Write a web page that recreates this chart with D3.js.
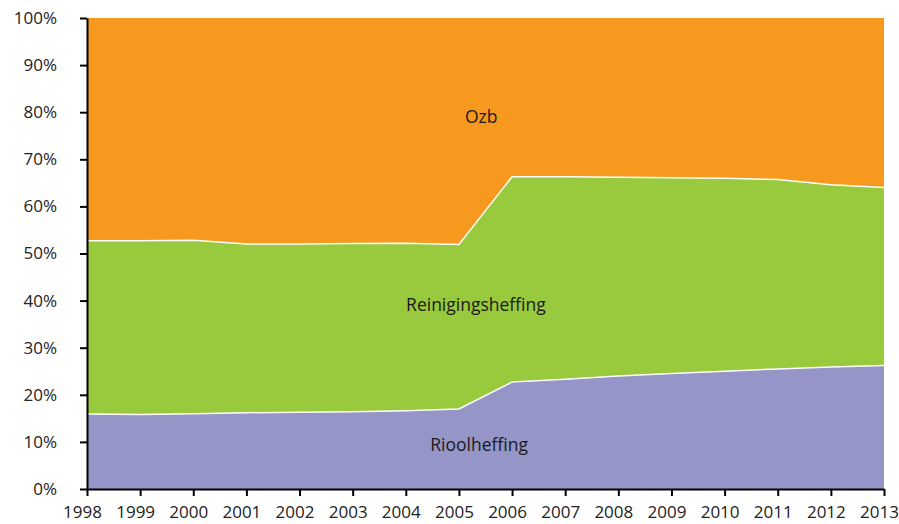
<!DOCTYPE html>
<html>
<head>
<meta charset="utf-8">
<script src="https://cdn.jsdelivr.net/npm/d3@7"></script>
<style>
    body { margin: 0; background: #fff; }
    .axis text { font-family: "Open Sans", sans-serif; font-size: 17px; fill: #222; }
    .axis path, .axis line { stroke: #000; stroke-width: 2px; }
    .area-label { font-family: "Open Sans", sans-serif; font-size: 17.5px; fill: #1a1a1a; text-anchor: middle; }
</style>
</head>
<body>
<div id="container"></div>
<script>
var years = [1998, 1999, 2000, 2001, 2002, 2003, 2004, 2005, 2006, 2007, 2008, 2009, 2010, 2011, 2012, 2013];

var rioolheffing = [15.9, 15.8, 16.0, 16.2, 16.3, 16.4, 16.6, 17.0, 22.7, 23.3, 24.0, 24.5, 25.0, 25.5, 25.9, 26.2];
var reinigingsheffing = [36.8, 36.9, 36.8, 35.8, 35.7, 35.7, 35.6, 34.9, 43.6, 43.0, 42.2, 41.6, 41.0, 40.2, 38.7, 37.8];
var ozb = [47.3, 47.3, 47.2, 48.0, 48.0, 47.9, 47.8, 48.1, 33.7, 33.7, 33.8, 33.9, 34.0, 34.3, 35.4, 36.0];

var seriesNames = ["Rioolheffing", "Reinigingsheffing", "Ozb"];
var yTicks = [0, 0.1, 0.2, 0.3, 0.4, 0.5, 0.6, 0.7, 0.8, 0.9, 1];

var colors = {
    "Rioolheffing": "#9595c7",
    "Reinigingsheffing": "#99c93c",
    "Ozb": "#f7991f"
};

var margin = {top: 18, right: 15, bottom: 35, left: 87},
    width = 899 - margin.left - margin.right,
    height = 524 - margin.top - margin.bottom;

var rows = years.map(function (y, i) {
    return {
        year: y,
        "Rioolheffing": rioolheffing[i],
        "Reinigingsheffing": reinigingsheffing[i],
        "Ozb": ozb[i]
    };
});

var stack = d3.stack()
    .keys(seriesNames)
    .offset(d3.stackOffsetExpand);

var layers = stack(rows);

var x = d3.scaleLinear().domain([1998, 2013]).range([0, width]);
var y = d3.scaleLinear().domain([0, 1]).range([height, 0]);

var svg = d3.select("#container").append("svg")
    .attr("width", 899)
    .attr("height", 524)
    .append("g")
    .attr("transform", "translate(" + margin.left + "," + margin.top + ")");

var area = d3.area()
    .x(function (d) { return x(d.data.year); })
    .y0(function (d) { return y(d[0]); })
    .y1(function (d) { return y(d[1]); });

svg.selectAll("path.layer")
    .data(layers)
    .enter().append("path")
    .attr("class", "layer")
    .attr("fill", function (d) { return colors[d.key]; })
    .attr("d", area);

// white seams between the layers
var topLine = d3.line()
    .x(function (d) { return x(d.data.year); })
    .y(function (d) { return y(d[1]); });

svg.selectAll("path.seam")
    .data(layers.slice(0, 2))
    .enter().append("path")
    .attr("class", "seam")
    .attr("fill", "none")
    .attr("stroke", "#fff")
    .attr("stroke-width", 1.5)
    .attr("d", topLine);

// labels inside the areas
var labels = [
    {name: "Ozb", year: 2005.42, value: 0.777},
    {name: "Reinigingsheffing", year: 2005.32, value: 0.378},
    {name: "Rioolheffing", year: 2005.38, value: 0.081}
];

svg.selectAll("text.area-label")
    .data(labels)
    .enter().append("text")
    .attr("class", "area-label")
    .attr("x", function (d) { return x(d.year); })
    .attr("y", function (d) { return y(d.value); })
    .text(function (d) { return d.name; });

// axes
var xAxis = svg.append("g")
    .attr("class", "axis axis--x")
    .attr("transform", "translate(0," + height + ")")
    .call(d3.axisBottom(x)
        .tickValues(years)
        .tickFormat(d3.format("d"))
        .tickSize(7)
        .tickSizeOuter(0)
        .tickPadding(10));

xAxis.selectAll(".tick text").attr("dx", -5);

svg.append("g")
    .attr("class", "axis axis--y")
    .call(d3.axisLeft(y)
        .tickValues(yTicks)
        .tickFormat(d3.format(".0%"))
        .tickSize(7)
        .tickSizeOuter(0)
        .tickPadding(23));
</script>
</body>
</html>
